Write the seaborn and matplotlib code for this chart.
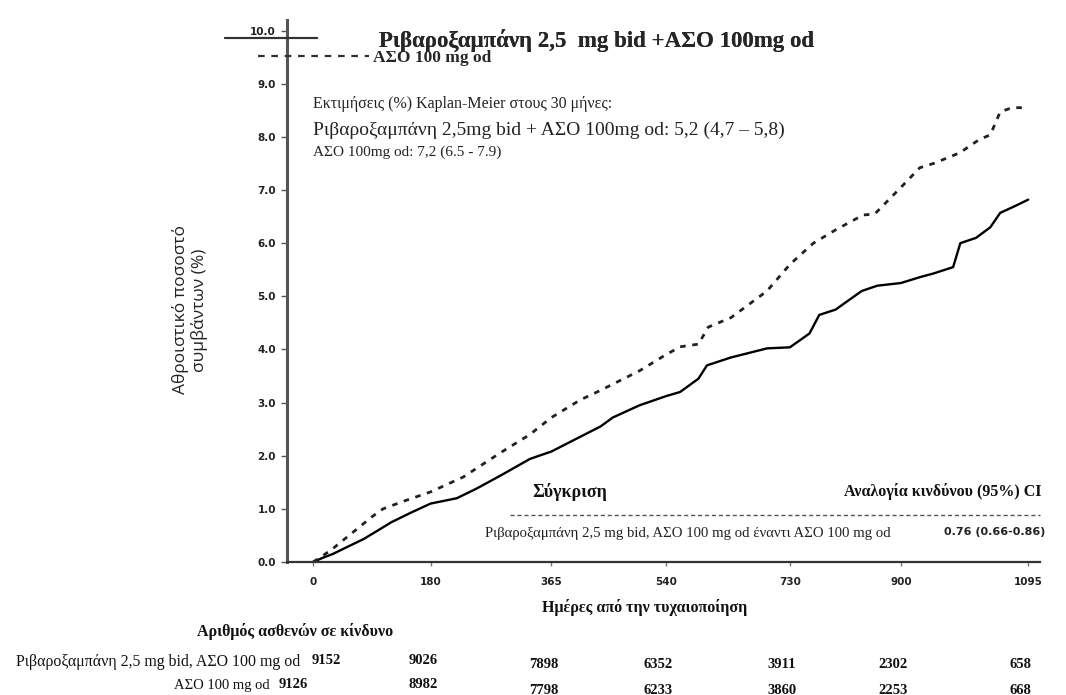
"""
Kaplan-Meier cumulative event rate: rivaroxaban 2.5 mg bid + ASA vs ASA alone.
Saves out.png (1066x695).
"""
import pandas as pd
import matplotlib.pyplot as plt
import seaborn as sns
from matplotlib.lines import Line2D
from matplotlib.transforms import blended_transform_factory

sns.set_theme(style='white')

SERIF = ['Liberation Serif', 'DejaVu Serif']
SANS = ['DejaVu Sans']
plt.rcParams['font.family'] = SANS

W, H = 1066, 695

# --- data --------------------------------------------------------------
days_riva = [0, 15, 30, 50, 77, 100, 120, 150, 180, 220, 250, 286, 332, 365,
             400, 440, 459, 500, 540, 562, 590, 603, 640, 695, 730, 760, 775,
             800, 840, 864, 900, 929, 950, 980, 991, 1015, 1037, 1052, 1075, 1095]
risk_riva = [0.0, 0.08, 0.15, 0.27, 0.43, 0.6, 0.75, 0.93, 1.1, 1.2, 1.38, 1.62,
             1.94, 2.08, 2.3, 2.55, 2.72, 2.95, 3.12, 3.2, 3.45, 3.7, 3.85, 4.02,
             4.04, 4.3, 4.65, 4.75, 5.1, 5.2, 5.25, 5.36, 5.43, 5.55, 6.0, 6.1,
             6.3, 6.57, 6.7, 6.82]

days_aso = [0, 15, 30, 60, 90, 107, 140, 180, 230, 286, 332, 365, 409, 440,
            500, 540, 562, 590, 605, 640, 695, 730, 766, 800, 842, 860, 900,
            929, 950, 990, 1020, 1037, 1052, 1070, 1095]
risk_aso = [0.0, 0.12, 0.25, 0.55, 0.85, 1.0, 1.15, 1.32, 1.6, 2.05, 2.4, 2.72,
            3.05, 3.23, 3.6, 3.9, 4.05, 4.1, 4.42, 4.6, 5.1, 5.6, 6.0, 6.25,
            6.53, 6.55, 7.05, 7.42, 7.5, 7.7, 7.95, 8.04, 8.47, 8.55, 8.55]

x_ticks = [0, 180, 365, 540, 730, 900, 1095]
y_ticks = [0, 1, 2, 3, 4, 5, 6, 7, 8, 9, 10]

arm_riva = 'Ριβαροξαμπάνη 2,5 mg bid, ΑΣΟ 100 mg od'
arm_aso = 'ΑΣΟ 100 mg od'
at_risk_riva = [9152, 9026, 7898, 6352, 3911, 2302, 658]
at_risk_aso = [9126, 8982, 7798, 6233, 3860, 2253, 668]

hr_text = '0.76 (0.66-0.86)'

df_riva = pd.DataFrame({'day': days_riva, 'risk': risk_riva})
df_aso = pd.DataFrame({'day': days_aso, 'risk': risk_aso})


def fx(px):
    return px / W


def fy(py):
    return 1 - py / H


fig = plt.figure(figsize=(W / 100, H / 100), dpi=100)
ax = fig.add_axes([fx(287), fy(562), fx(1040) - fx(287), fy(20) - fy(562)])

DASH = (0, (2, 2.4))
sns.lineplot(data=df_riva, x='day', y='risk', color='black', lw=1.7,
             ax=ax, legend=False)
sns.lineplot(data=df_aso, x='day', y='risk', color='#222222', lw=2.0,
             linestyle=DASH, ax=ax, legend=False)

ax.set_xlim(-40, 1113)
ax.set_ylim(0, 10.2)
ax.set_xticks(x_ticks)
ax.set_xticklabels([str(t) for t in x_ticks])
ax.set_yticks(y_ticks)
ax.set_yticklabels(['{:.1f}'.format(t) for t in y_ticks])
for lab in ax.get_xticklabels() + ax.get_yticklabels():
    lab.set_fontweight('bold')
    lab.set_fontsize(7.5)
    lab.set_color('#222222')
ax.tick_params(axis='y', direction='out', length=4, width=1, color='#555555', pad=4, left=True)
ax.tick_params(axis='x', direction='out', length=3, width=1, color='#777777', pad=8, bottom=True)

for s in ['top', 'right']:
    ax.spines[s].set_visible(False)
ax.spines['left'].set_color('#555555')
ax.spines['left'].set_linewidth(2.2)
ax.spines['bottom'].set_color('#333333')
ax.spines['bottom'].set_linewidth(1.6)

ax.set_xlabel('')
ax.set_ylabel('')

# y label (two lines, rotated)
fig.text(fx(190), fy(310), 'Αθροιστικό ποσοστό\nσυμβάντων (%)', rotation=90,
         ha='center', va='center', fontsize=12.5, family=['Open Sans', 'DejaVu Sans'],
         color='#222222', linespacing=1.15)

# x label
fig.text(fx(645), fy(608), 'Ημέρες από την τυχαιοποίηση', ha='center', va='center',
         fontsize=11.5, fontweight='bold', family=SERIF, color='#111111')

# legends (two separate entries, as in the reference)
leg1 = fig.legend(handles=[Line2D([], [], color='#333333', lw=1.5)],
                  labels=['Ριβαροξαμπάνη 2,5  mg bid +ΑΣΟ 100mg od'],
                  loc='center left', bbox_to_anchor=(fx(225), fy(40)),
                  frameon=False, borderpad=0, borderaxespad=0,
                  handlelength=4.0, handletextpad=2.7,
                  prop={'family': SERIF, 'weight': 'bold', 'size': 16.5})
fig.add_artist(leg1)
fig.legend(handles=[Line2D([], [], color='#333333', lw=1.6, linestyle=(0, (3, 3)))],
           labels=['ΑΣΟ 100 mg od'],
           loc='center left', bbox_to_anchor=(fx(258), fy(58)),
           frameon=False, borderpad=0, borderaxespad=0,
           handlelength=6.4, handletextpad=0.2,
           prop={'family': SERIF, 'weight': 'bold', 'size': 12.5})

# Kaplan-Meier estimates block
fig.text(fx(313), fy(104), 'Εκτιμήσεις (%) Kaplan-Meier στους 30 μήνες:', ha='left',
         va='center', fontsize=11.5, family=SERIF, color='#222222')
fig.text(fx(313), fy(130), 'Ριβαροξαμπάνη 2,5mg bid + ΑΣΟ 100mg od: 5,2 (4,7 – 5,8)',
         ha='left', va='center', fontsize=14, family=SERIF, color='#222222')
fig.text(fx(313), fy(152), 'ΑΣΟ 100mg od: 7,2 (6.5 - 7.9)', ha='left', va='center',
         fontsize=11, family=SERIF, color='#222222')

# comparison block
fig.text(fx(570), fy(492), 'Σύγκριση', ha='center', va='center', fontsize=13,
         fontweight='bold', family=SERIF, color='#111111')
fig.text(fx(1042), fy(492), 'Αναλογία κινδύνου (95%) CI', ha='right', va='center',
         fontsize=11.5, fontweight='bold', family=SERIF, color='#111111')
fig.add_artist(Line2D([fx(510), fx(1040)], [fy(515), fy(515)], color='#555555',
                      lw=1, linestyle=(0, (3, 2))))
fig.text(fx(485), fy(533), 'Ριβαροξαμπάνη 2,5 mg bid, ΑΣΟ 100 mg od έναντι ΑΣΟ 100 mg od',
         ha='left', va='center', fontsize=10.6, family=SERIF, color='#222222')
fig.text(fx(1045), fy(532), hr_text, ha='right', va='center', fontsize=8,
         fontweight='bold', family=SANS, color='#222222')

# number at risk table
fig.text(fx(295), fy(632), 'Αριθμός ασθενών σε κίνδυνο', ha='center', va='center',
         fontsize=11.5, fontweight='bold', family=SERIF, color='#111111')
fig.text(fx(300), fy(662), arm_riva, ha='right', va='center', fontsize=11.4,
         family=SERIF, color='#111111')
fig.text(fx(270), fy(685), arm_aso, ha='right', va='center', fontsize=10.5,
         family=SERIF, color='#111111')

tr = blended_transform_factory(ax.transData, fig.transFigure)
for i, (d, a, b) in enumerate(zip(x_ticks, at_risk_riva, at_risk_aso)):
    early = i < 2
    xa = d + 20 if i == 0 else d - 12
    xb = d - 30 if i == 0 else d - 12
    ax.text(xa, fy(660 if early else 664), str(a), transform=tr, ha='center',
            va='center', fontsize=10.5, fontweight='bold', family=SERIF, color='#111111')
    ax.text(xb, fy(684 if early else 690), str(b), transform=tr, ha='center',
            va='center', fontsize=10.5, fontweight='bold', family=SERIF, color='#111111')

fig.savefig('out.png', dpi=100)
print('saved out.png')
